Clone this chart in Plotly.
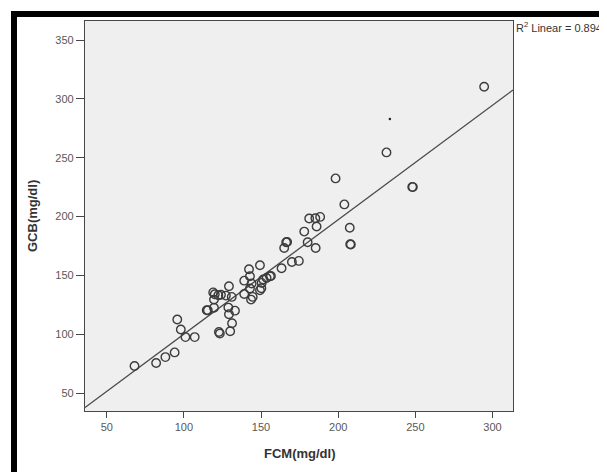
import plotly.graph_objects as go

# Scatter data
fcm = [68, 82, 88, 94, 95.7, 98, 101, 107, 114.8, 115.5, 119, 120, 119.5, 119.5,
       122.3, 124, 127.2, 129.2, 131, 128.8, 129.2, 133.1, 131.2, 130, 122.7, 123.3,
       139.1, 139.1, 142.2, 142.8, 143.9, 142.8, 143.5, 144.6, 149.3, 150.4, 151.4,
       153.6, 149.3, 150.2, 156.4, 155.8, 163.3, 165, 166.3, 166.9, 170, 174.5, 178,
       180.2, 181.2, 185.2, 188.3, 186, 185.4, 198.3, 204, 207.5, 207.8, 208.2,
       231.3, 248, 248.4, 294.6]
gcb = [73, 75.5, 80.5, 84.5, 112.5, 104, 97.5, 97.5, 120.3, 120.3, 135.5, 134, 129.4, 122.5,
       133.1, 133.5, 132.8, 140.7, 131.7, 122.6, 117, 120, 109.3, 102.5, 101.9, 100.5,
       145.5, 134.2, 155.2, 149.3, 143.1, 138.8, 129.4, 131.7, 158.6, 143.6, 146.5,
       147.8, 137.4, 139, 149.5, 149.3, 156, 173.3, 178.2, 178.4, 161.4, 162.3, 187.2,
       178.2, 198.3, 198.5, 199.7, 191.5, 173.3, 232.4, 210.3, 190.5, 176.5, 176.2,
       254.5, 225.2, 225.0, 310.3]

# Stray dot visible in the picture
dot_x = [233.5]
dot_y = [282.8]

# Linear fit as drawn
fit_intercept = 2.7
fit_slope = 0.973
r2_label = "0.894"

x_range = [35.9, 313.3]
y_range = [34.7, 366.2]
x_ticks = [50, 100, 150, 200, 250, 300]
y_ticks = [50, 100, 150, 200, 250, 300, 350]

fit_x = x_range
fit_y = [fit_intercept + fit_slope * v for v in fit_x]

fig = go.Figure()
fig.add_trace(go.Scatter(x=fit_x, y=fit_y, mode="lines",
                         line=dict(color="#4a4a4a", width=1.3),
                         hoverinfo="skip"))
fig.add_trace(go.Scatter(x=fcm, y=gcb, mode="markers",
                         marker=dict(symbol="circle-open", size=8.5, color="#3c3c3c",
                                     line=dict(width=1.4))))
fig.add_trace(go.Scatter(x=dot_x, y=dot_y, mode="markers",
                         marker=dict(symbol="circle", size=2.5, color="#222")))

# page has an 8px body margin; work in page pixels and subtract it
OFF = 8
PW, PH = 607, 472
W, H = PW - OFF, PH - OFF
L, R, T, B = 85, 513, 21, 411  # plot area in page pixels
pw, ph = R - L, B - T

def px(xp):
    return (xp - L) / pw

def py(yp):
    return (B - yp) / ph

font_family = "Liberation Sans, Arial"
axis_common = dict(showgrid=False, zeroline=False, showline=True, mirror=True,
                   linecolor="#474747", linewidth=1.2, ticks="outside",
                   tickwidth=1.2, tickcolor="#474747",
                   tickfont=dict(family=font_family, size=11, color="#585858"))

fig.update_layout(
    width=W, height=H,
    margin=dict(l=L - OFF, r=PW - R, t=T - OFF, b=PH - B, pad=0),
    paper_bgcolor="white", plot_bgcolor="#efefef",
    showlegend=False,
    xaxis=dict(range=x_range, tickvals=x_ticks, ticklen=6, **axis_common),
    yaxis=dict(range=y_range, tickvals=y_ticks, ticklen=8, **axis_common),
    shapes=[
        # thick black frame (left and top visible)
        dict(type="rect", xref="paper", yref="paper",
             x0=px(11), x1=px(17), y0=py(480), y1=py(11),
             fillcolor="black", line=dict(width=0), layer="above"),
        dict(type="rect", xref="paper", yref="paper",
             x0=px(11), x1=px(620), y0=py(17), y1=py(11),
             fillcolor="black", line=dict(width=0), layer="above"),
    ],
    annotations=[
        dict(text="R<sup>2</sup> Linear = " + r2_label, xref="paper", yref="paper",
             x=px(514), y=py(27), xanchor="left", yanchor="middle", showarrow=False,
             font=dict(family=font_family, size=11, color="#333")),
        dict(text="<b>FCM(mg/dl)</b>", xref="paper", yref="paper",
             x=px(299), y=py(453), xanchor="center", yanchor="middle", showarrow=False,
             font=dict(family=font_family, size=13, color="#333")),
        dict(text="<b>GCB(mg/dl)</b>", xref="paper", yref="paper",
             x=px(32), y=py(216), xanchor="center", yanchor="middle", showarrow=False,
             textangle=-90,
             font=dict(family=font_family, size=13, color="#333")),
    ],
)

fig.write_html("out.html")
